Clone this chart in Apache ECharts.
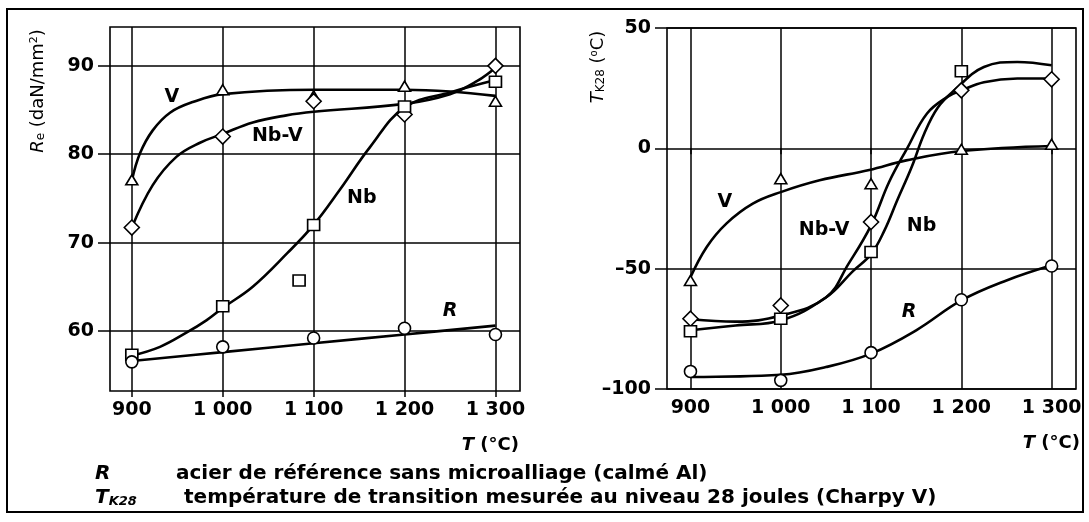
<!DOCTYPE html>
<html>
<head>
<meta charset="utf-8">
<script src="https://cdn.jsdelivr.net/npm/echarts@6/dist/echarts.min.js"></script>
<style>
  html, body { margin: 0; padding: 0; background: #fff; }
  #chart { width: 1089px; height: 522px; }
</style>
</head>
<body>
<div id="chart"></div>
<script>
// ---- data ----
const TEMPS = [900, 1000, 1100, 1200, 1300];
const RE_TICKS = [60, 70, 80, 90];
const TK_TICKS = [-100, -50, 0, 50];

// Re (daN/mm2) measured points
const RE_V = [77.1, 87.3, 86.6, 87.7, 86.0];
const RE_NBV = [71.7, 82.0, 86.0, 84.5, 90.0];
const RE_NB = [57.3, 62.8, 72.0, 85.4, 88.2];
const RE_NB_EXTRA = [[1084, 65.7]];
const RE_R = [56.5, 58.2, 59.2, 60.3, 59.6];

// Re fitted curves (as drawn)
const RE_V_CURVE = [[900, 77.0], [909, 80.1], [923, 82.7], [942, 84.7], [967, 85.9], [1000, 86.8], [1100, 87.3], [1200, 87.3], [1250, 87.1], [1300, 86.6]];
const RE_NBV_CURVE = [[900, 71.7], [923, 76.5], [949, 79.7], [975, 81.3], [1000, 82.3], [1033, 83.6], [1070, 84.4], [1100, 84.8], [1200, 85.7], [1250, 86.8], [1280, 88.3], [1300, 89.8]];
const RE_NB_CURVE = [[900, 57.2], [931, 58.2], [960, 59.8], [982, 61.2], [1000, 62.6], [1033, 65.0], [1071, 68.8], [1100, 72.0], [1129, 76.0], [1162, 80.8], [1200, 85.3], [1250, 87.0], [1300, 88.4]];
const RE_R_CURVE = [[900, 56.6], [1000, 57.6], [1100, 58.6], [1200, 59.6], [1300, 60.6]];

// TK28 (°C) measured points
const TK_V = [-54.9, -12.6, -14.7, -0.4, 1.7];
const TK_NBV = [-70.8, -65.3, -30.6, 24.1, 28.7];
const TK_NB = [-76.0, -70.8, -43.1, 32.0];
const TK_R = [-92.7, -96.4, -84.9, -62.9, -48.9];

// TK28 fitted curves
const TK_V_CURVE = [[900, -53.6], [918, -41], [940, -31.2], [969, -23], [1000, -18.2], [1043, -13.3], [1098, -9], [1139, -5], [1200, -1.1], [1300, 1.0]];
const TK_NBV_CURVE = [[900, -71], [950, -72], [1000, -69.5], [1050, -62], [1075, -48], [1100, -32], [1120, -14], [1140, 0], [1162, 14.5], [1185, 21.5], [1200, 24], [1225, 27.5], [1262, 29], [1300, 29]];
const TK_NB_CURVE = [[900, -75.6], [950, -73.6], [1000, -71.5], [1050, -62], [1080, -51], [1100, -44], [1115, -34], [1129, -21.6], [1145, -7.8], [1159, 6.2], [1174, 17], [1192, 24], [1225, 33.8], [1262, 35.9], [1300, 34.5]];
const TK_R_CURVE = [[900, -95], [1000, -94.1], [1050, -90.9], [1100, -85.3], [1150, -75.6], [1200, -63.2], [1250, -54.9], [1300, -48.6]];

// curve names, placed in data units
const RE_LABELS = [[944, 86.5, "V"], [1060, 82.0, "Nb-V"], [1153, 75.0, "Nb"], [1250, 62.2, "R"]];
const TK_LABELS = [[938, -22.4, "V"], [1048, -34, "Nb-V"], [1156, -32.4, "Nb"], [1142, -68, "R"]];

const FONT = "DejaVu Sans";
const pair = (xs, ys) => ys.map((y, i) => [xs[i], y]);
const fmtT = (v) => v >= 1000 ? Math.floor(v / 1000) + " " + String(v % 1000).padStart(3, "0") : String(v);

function curve(idx, pts) {
  return { type: "line", xAxisIndex: idx, yAxisIndex: idx, data: pts, smooth: 0.4,
    symbol: "none", lineStyle: { color: "#000", width: 2.6 }, z: 3, silent: true };
}
function marks(idx, pts, symbol, size) {
  return { type: "scatter", xAxisIndex: idx, yAxisIndex: idx, data: pts, symbol, symbolSize: size,
    itemStyle: { color: "#fff", borderColor: "#000", borderWidth: 1.6, opacity: 1 }, z: 5, silent: true };
}
function names(idx, pts) {
  return { type: "scatter", xAxisIndex: idx, yAxisIndex: idx, data: pts, symbolSize: 0, z: 6, silent: true,
    itemStyle: { opacity: 1 },
    label: { show: true, position: "inside", color: "#000", fontFamily: FONT, fontWeight: "bold", fontSize: 19,
      formatter: (p) => p.data[2] === "R" ? "{i|R}" : p.data[2],
      rich: { i: { fontStyle: "italic", fontFamily: FONT, fontWeight: "bold", fontSize: 19, color: "#000" } } } };
}
function gridLines(idx, yTicks) {
  return { type: "line", xAxisIndex: idx, yAxisIndex: idx, data: [], z: 1, silent: true,
    markLine: { silent: true, symbol: ["none", "none"], label: { show: false }, animation: false,
      lineStyle: { color: "#000", width: 1.5, type: "solid" },
      data: TEMPS.map((t) => ({ xAxis: t })).concat(yTicks.map((v) => ({ yAxis: v }))) } };
}
function xAxis(idx, min, max) {
  return { type: "value", gridIndex: idx, min, max, splitLine: { show: false }, axisLine: { show: false },
    axisTick: { show: true, length: 6, customValues: TEMPS, lineStyle: { color: "#000", width: 1.5 } },
    axisLabel: { customValues: TEMPS, formatter: fmtT, margin: 10, color: "#000", fontFamily: FONT,
      fontWeight: "bold", fontSize: 19 } };
}
function yAxis(idx, min, max, ticks, fmt) {
  return { type: "value", gridIndex: idx, min, max, splitLine: { show: false }, axisLine: { show: false },
    axisTick: { show: true, length: 12, customValues: ticks, lineStyle: { color: "#000", width: 1.5 } },
    axisLabel: { customValues: ticks, formatter: fmt, margin: 16, color: "#000", fontFamily: FONT,
      fontWeight: "bold", fontSize: 19 } };
}

const sub = { fontFamily: FONT, fontSize: 12, verticalAlign: "bottom", fill: "#000" };
const sup = { fontFamily: FONT, fontSize: 11, verticalAlign: "top", fill: "#000" };
const ital = (size, bold) => ({ fontFamily: FONT, fontStyle: "italic", fontWeight: bold ? "bold" : "normal", fontSize: size, fill: "#000" });

const chart = echarts.init(document.getElementById("chart"), null, { renderer: "canvas" });
chart.setOption({
  animation: false,
  backgroundColor: "#fff",
  grid: [
    { left: 110, top: 27, width: 410, height: 364, show: true, borderColor: "#000", borderWidth: 1.6, backgroundColor: "transparent" },
    { left: 667, top: 28, width: 409, height: 361, show: true, borderColor: "#000", borderWidth: 1.6, backgroundColor: "transparent" },
  ],
  xAxis: [xAxis(0, 876, 1327), xAxis(1, 874, 1327)],
  yAxis: [
    yAxis(0, 53.2, 94.4, RE_TICKS, (v) => String(v)),
    yAxis(1, -100, 50, TK_TICKS, (v) => v < 0 ? "\u2013" + (-v) : String(v)),
  ],
  series: [
    gridLines(0, RE_TICKS),
    gridLines(1, TK_TICKS),
    curve(0, RE_V_CURVE), curve(0, RE_NBV_CURVE), curve(0, RE_NB_CURVE), curve(0, RE_R_CURVE),
    curve(1, TK_V_CURVE), curve(1, TK_NBV_CURVE), curve(1, TK_NB_CURVE), curve(1, TK_R_CURVE),
    marks(0, pair(TEMPS, RE_V), "triangle", [12, 10]),
    marks(0, pair(TEMPS, RE_NBV), "diamond", [15, 15]),
    marks(0, pair(TEMPS, RE_NB).concat(RE_NB_EXTRA), "rect", [12, 11]),
    marks(0, pair(TEMPS, RE_R), "circle", 12),
    marks(1, pair(TEMPS, TK_V), "triangle", [12, 10]),
    marks(1, pair(TEMPS, TK_NBV), "diamond", [15, 15]),
    marks(1, pair(TEMPS, TK_NB), "rect", [12, 11]),
    marks(1, pair(TEMPS, TK_R), "circle", 12),
    names(0, RE_LABELS),
    names(1, TK_LABELS),
  ],
  graphic: [
    { type: "rect", silent: true, shape: { x: 7, y: 9, width: 1076, height: 503 },
      style: { fill: "none", stroke: "#000", lineWidth: 2 } },
    // axis titles
    { type: "text", x: 38, y: 91, rotation: Math.PI / 2, silent: true,
      style: { text: "{i|R}{s|e} (daN/mm{p|2})", font: "18px '" + FONT + "'", fill: "#000", align: "center", verticalAlign: "middle",
        rich: { i: ital(18, false), s: sub, p: sup } } },
    { type: "text", x: 598, y: 67, rotation: Math.PI / 2, silent: true,
      style: { text: "{i|T}{s|K28} ({p|o}C)", font: "18px '" + FONT + "'", fill: "#000", align: "center", verticalAlign: "middle",
        rich: { i: ital(18, false), s: sub, p: Object.assign({}, sup, { fontSize: 10 }) } } },
    // x titles
    { type: "text", x: 519, y: 445, silent: true,
      style: { text: "{i|T} (°C)", font: "bold 18px '" + FONT + "'", fill: "#000", align: "right", verticalAlign: "middle",
        rich: { i: ital(18, true) } } },
    { type: "text", x: 1080, y: 443, silent: true,
      style: { text: "{i|T} (°C)", font: "bold 18px '" + FONT + "'", fill: "#000", align: "right", verticalAlign: "middle",
        rich: { i: ital(18, true) } } },
    // footnotes
    { type: "text", x: 95, y: 474, silent: true,
      style: { text: "R", font: "italic bold 20px '" + FONT + "'", fill: "#000", verticalAlign: "middle" } },
    { type: "text", x: 176, y: 474, silent: true,
      style: { text: "acier de référence sans microalliage (calmé Al)", font: "bold 20px '" + FONT + "'", fill: "#000", verticalAlign: "middle" } },
    { type: "text", x: 95, y: 498, silent: true,
      style: { text: "{i|T}{s|K28}", font: "italic bold 20px '" + FONT + "'", fill: "#000", verticalAlign: "middle",
        rich: { i: ital(20, true), s: Object.assign(ital(13, true), { verticalAlign: "bottom" }) } } },
    { type: "text", x: 184, y: 498, silent: true,
      style: { text: "température de transition mesurée au niveau 28 joules (Charpy V)", font: "bold 20px '" + FONT + "'", fill: "#000", verticalAlign: "middle" } },
  ],
});
</script>
